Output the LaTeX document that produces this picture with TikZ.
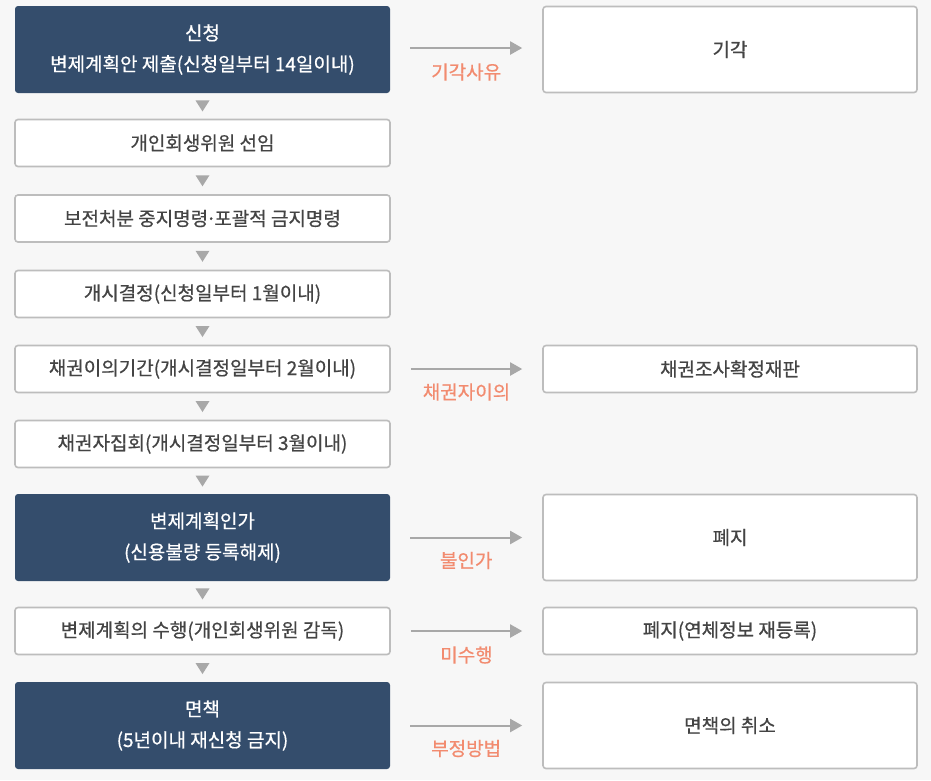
\documentclass[tikz,border=0pt]{standalone}
\usepackage{fontspec}
\setmainfont{Noto Sans CJK KR}[FakeBold=0.6]
\usetikzlibrary{arrows.meta,calc}
\definecolor{bg}{HTML}{F7F7F7}
\definecolor{dark}{HTML}{344D6C}
\definecolor{bord}{HTML}{BDBDBD}
\definecolor{txt}{HTML}{444444}
\definecolor{lab}{HTML}{F28B6F}
\definecolor{arrg}{HTML}{A8A8A8}
\tikzset{
  wbox/.style={draw=bord, line width=1.6pt, fill=white, rounded corners=3pt,
    text=txt, font=\fontsize{19}{30}\selectfont, align=center, inner sep=0pt},
  dbox/.style={fill=dark, rounded corners=3pt, text=white,
    font=\fontsize{19}{31}\selectfont, align=center, inner sep=0pt},
  lcol/.style={minimum width=375pt},
  rcol/.style={minimum width=374pt},
  arr/.style={draw=arrg, line width=2pt, -{Triangle[length=12pt,width=13pt]}},
  lbl/.style={text=lab, font=\fontsize{19}{20}\selectfont},
  tri/.style={fill=arrg}
}
\begin{document}
\begin{tikzpicture}[x=1pt,y=-1pt]
\fill[bg] (0,0) rectangle (931,780);
\useasboundingbox (0,0) rectangle (931,780);

% left column
\node[dbox,lcol,minimum height=87pt] (l1) at (202.5,49.5) {신청\\변제계획안 제출(신청일부터 14일이내)};
\node[wbox,lcol,minimum height=47pt] (l2) at (202.5,143) {개인회생위원 선임};
\node[wbox,lcol,minimum height=47pt] (l3) at (202.5,218.5) {보전처분 중지명령\kern-0.12em·\kern-0.12em포괄적 금지명령};
\node[wbox,lcol,minimum height=47pt] (l4) at (202.5,294) {개시결정(신청일부터 1월이내)};
\node[wbox,lcol,minimum height=47pt] (l5) at (202.5,369) {채권이의기간(개시결정일부터 2월이내)};
\node[wbox,lcol,minimum height=47pt] (l6) at (202.5,444) {채권자집회(개시결정일부터 3월이내)};
\node[dbox,lcol,minimum height=87pt] (l7) at (202.5,537.5) {변제계획인가\\(신용불량 등록해제)};
\node[wbox,lcol,minimum height=47pt] (l8) at (202.5,631) {변제계획의 수행(개인회생위원 감독)};
\node[dbox,lcol,minimum height=87pt] (l9) at (202.5,725.5) {면책\\(5년이내 재신청 금지)};

% right column
\node[wbox,rcol,minimum height=86pt] (r1) at (730,49.5) {기각};
\node[wbox,rcol,minimum height=47pt] (r2) at (730,369) {채권조사확정재판};
\node[wbox,rcol,minimum height=86pt] (r3) at (730,537.5) {폐지};
\node[wbox,rcol,minimum height=47pt] (r4) at (730,631) {폐지(연체정보 재등록)};
\node[wbox,rcol,minimum height=86pt] (r5) at (730,725.5) {면책의 취소};

% down triangles
\foreach \a/\b in {l1/l2,l2/l3,l3/l4,l4/l5,l5/l6,l6/l7,l7/l8,l8/l9}{
  \fill[tri] ($(\a.south)!0.5!(\b.north)$) +(-7,-5.5) -- +(7,-5.5) -- +(0,5.5) -- cycle;
}

% side arrows
\draw[arr] ([xshift=20pt,yshift=1.5pt]l1.east) -- node[lbl,yshift=-24pt]{기각사유} ([xshift=-20pt,yshift=1.5pt]r1.west);
\draw[arr] ([xshift=20pt]l5.east) -- node[lbl,yshift=-23pt]{채권자이의} ([xshift=-20pt]r2.west);
\draw[arr] ([xshift=20pt]l7.east) -- node[lbl,yshift=-23pt]{불인가} ([xshift=-20pt]r3.west);
\draw[arr] ([xshift=20pt]l8.east) -- node[lbl,yshift=-24pt]{미수행} ([xshift=-20pt]r4.west);
\draw[arr] ([xshift=20pt]l9.east) -- node[lbl,yshift=-23pt]{부정방법} ([xshift=-20pt]r5.west);
\end{tikzpicture}
\end{document}
